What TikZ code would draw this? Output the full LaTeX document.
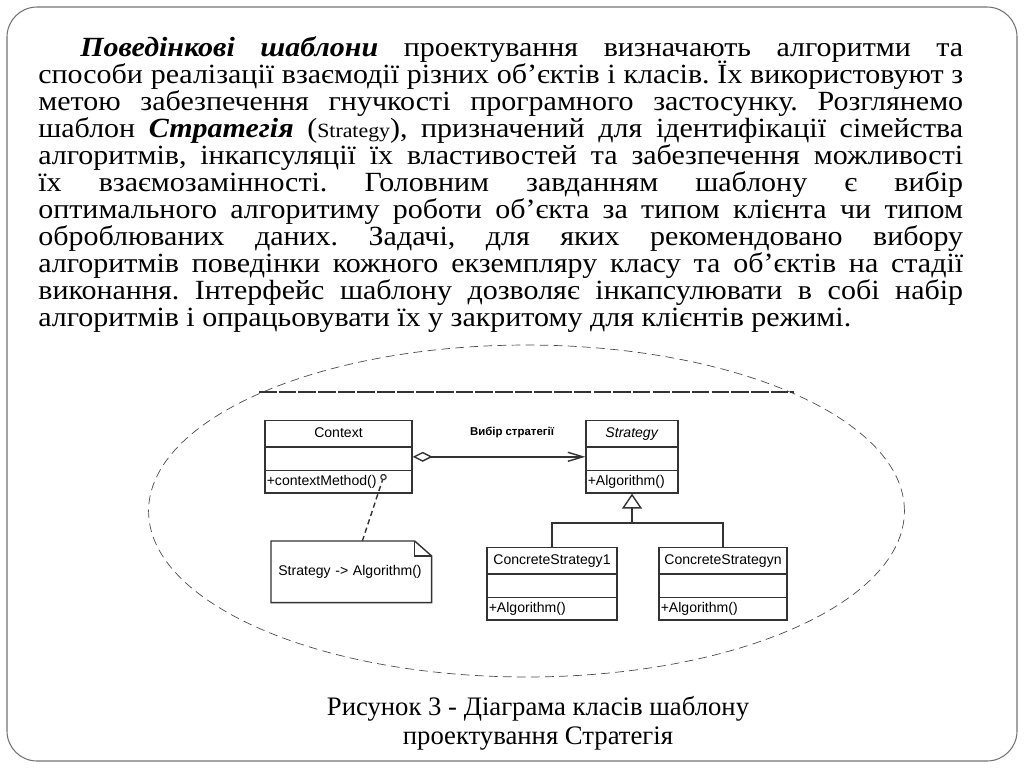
\documentclass[tikz,border=0pt]{standalone}
\usepackage{fontspec}
\setmainfont{Liberation Serif}
\setsansfont{Liberation Sans}
\newfontfamily\slidefont{Liberation Serif}[FakeStretch=1.08]
\usetikzlibrary{arrows.meta,positioning,calc,shapes.multipart}

% compartment rows of a class box
\newcommand{\namerow}[1]{\rule[-0.17cm]{0pt}{0.5cm}#1}
\newcommand{\blankrow}{\rule{0pt}{0.44cm}}
\newcommand{\oprow}[1]{\rule[-0.13cm]{0pt}{0.42cm}#1}
% fixed line pitch for the slide text
\newcommand{\slidelines}{\lineskiplimit=-20pt\lineskip=0pt\frenchspacing}

\begin{document}
\begin{tikzpicture}[
    x=0.02cm, y=-0.02cm,
    umlclass/.style={rectangle split, rectangle split parts=3,
                     draw=black!80, line width=0.8pt,
                     rectangle split part align={center,left,left},
                     font=\sffamily\fontsize{8}{9.6}\selectfont,
                     inner xsep=1pt, inner ysep=0pt, anchor=north},
    notebox/.style={font=\sffamily\fontsize{8}{9.6}\selectfont,
                    minimum height=1.22cm, text width=2.92cm,
                    inner xsep=0.14cm, inner ysep=0pt, align=left,
                    anchor=north west},
    umlline/.style={line width=0.8pt, color=black!80},
    body/.style={font=\slidefont\fontsize{15.8}{15.37}\selectfont\slidelines,
                 text width=18.5cm, align=justify, inner sep=0pt, anchor=north west},
    lbl/.style={font=\sffamily\bfseries\fontsize{6.5}{7.8}\selectfont},
  ]
  \useasboundingbox (0,0) rectangle (1024,768);
  \draw[black!55, line width=0.6pt, rounded corners=0.6cm] (7,7) rectangle (1017,761);

  % Text of the slide
  \node[body] (intro) at (38,36) {%
    \hspace*{0.84cm}\textbf{\textit{Поведінкові шаблони}} проектування визначають алгоритми та\linebreak
    способи реалізації взаємодії різних об’єктів і класів. Їх використовуют з\linebreak
    метою забезпечення гнучкості програмного застосунку. Розглянемо\linebreak
    шаблон \textbf{\textit{Стратегія}} ({\fontsize{11.5}{12}\selectfont Strategy}), призначений для ідентифікації сімейства\linebreak
    алгоритмів, інкапсуляції їх властивостей та забезпечення можливості\linebreak
    їх взаємозамінності. Головним завданням шаблону є вибір\linebreak
    оптимального алгоритиму роботи об’єкта за типом клієнта чи типом\linebreak
    оброблюваних даних. Задачі, для яких рекомендовано вибору\linebreak
    алгоритмів поведінки кожного екземпляру класу та об’єктів на стадії\linebreak
    виконання. Інтерфейс шаблону дозволяє інкапсулювати в собі набір\linebreak
    алгоритмів і опрацьовувати їх у закритому для клієнтів режимі.};

  % Dashed outline round the diagram
  \draw[black!70, dash pattern=on 5pt off 3pt] (526.5,511) ellipse [x radius=7.56cm, y radius=3.32cm];
  \draw[black!80, line width=1.2pt, dash pattern=on 10pt off 1.2pt] (259,392) -- (794,392);

  % Classes
  \node[umlclass, minimum width=2.94cm] (ctx) at (338.5,420)
    {\namerow{Context}\nodepart{two}\blankrow\nodepart{three}\oprow{+contextMethod()}};
  \node[umlclass, minimum width=1.84cm] (strat) at (632,420)
    {\namerow{\textit{Strategy}}\nodepart{two}\blankrow\nodepart{three}\oprow{+Algorithm()}};
  \node[umlclass, minimum width=2.6cm] (cs1) at (552,547)
    {\namerow{ConcreteStrategy1}\nodepart{two}\blankrow\nodepart{three}\oprow{+Algorithm()}};
  \node[umlclass, minimum width=2.56cm] (csn) at (723,547)
    {\namerow{ConcreteStrategyn}\nodepart{two}\blankrow\nodepart{three}\oprow{+Algorithm()}};

  % Aggregation
  \draw[umlline, {Diamond[open, length=0.4cm, width=0.2cm]}-{Straight Barb[length=0.3cm, width=0.18cm]}]
    (ctx.east) -- (strat.west);
  \node[lbl] (choice) at (512,432) {Вибір стратегії};

  % Generalization
  \coordinate (fork) at (632,523);
  \draw[umlline] (cs1.north) |- (fork) -| (csn.north);
  \draw[umlline, line width=1.1pt, -{Triangle[open, length=0.3cm, width=0.4cm, line width=0.8pt]}]
    (fork) -- (strat.south);

  % Note
  \node[notebox] (note) at (271,541) {Strategy -> Algorithm()};
  \draw[umlline] (note.north west) -- ([xshift=-0.34cm]note.north east)
    -- ([yshift=-0.3cm]note.north east) -- (note.south east) -- (note.south west) -- cycle;
  \draw[umlline] ([xshift=-0.34cm]note.north east) |- ([yshift=-0.3cm]note.north east);
  \coordinate (pin) at (384.5,474);
  \draw[umlline, dash pattern=on 3pt off 2pt, -{Circle[open, length=0.13cm, line width=0.7pt]}]
    ([xshift=0.22cm]note.north) -- (pin);

  % Caption
  \node[font=\fontsize{15.2}{16.5}\selectfont, align=center, inner sep=0pt, anchor=north] (caption)
    at (538,696) {Рисунок 3 - Діаграма класів шаблону\\проектування Стратегія};
\end{tikzpicture}
\end{document}
